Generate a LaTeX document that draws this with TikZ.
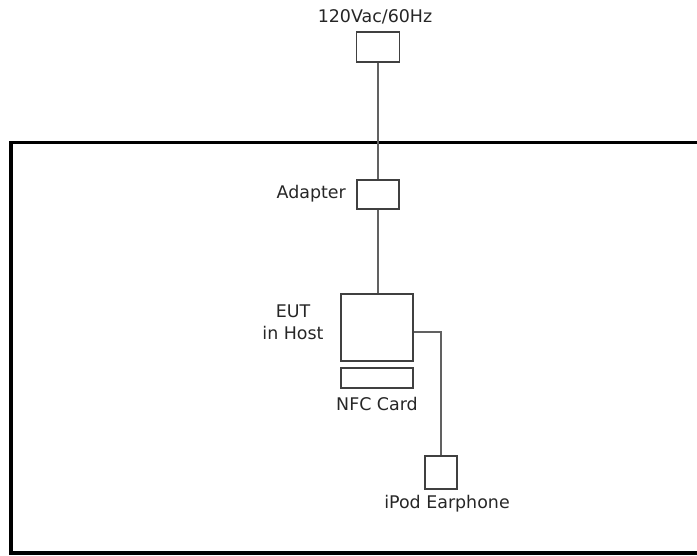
\documentclass[tikz,border=0pt]{standalone}
\usepackage{fontspec}
\setmainfont{DejaVu Sans}
\begin{document}
\begin{tikzpicture}[x=1bp,y=-1bp,
  box/.style={draw=black!75,line width=1.8bp,fill=white,inner sep=0pt},
  wire/.style={draw=black!62,line width=2bp},
  lbl/.style={font=\fontsize{17.5}{22}\selectfont,text=black!85,inner sep=0pt,align=center},
  frame/.style={draw=black,line width=3.5bp}]
\useasboundingbox (0,0) rectangle (697,556);
\clip (0,0) rectangle (697,556);
\draw[frame] (720,142.5) -- (11,142.5) -- (11,553) -- (720,553);
\node[box,minimum width=43bp,minimum height=30bp] (power) at (378,47) {};
\node[box,minimum width=42bp,minimum height=29bp] (adapter) at (378,194.5) {};
\node[box,minimum width=72bp,minimum height=67bp] (eut) at (377,327.5) {};
\node[box,minimum width=72bp,minimum height=20bp] (nfc) at (377,378) {};
\node[box,minimum width=32bp,minimum height=33bp] (ipod) at (441,472.5) {};
\node[lbl] (tpower) at (375,17) {120Vac/60Hz};
\node[lbl,anchor=east] (tadapter) at (346,194) {Adapter};
\node[lbl] (teut) at (293,322) {EUT\\in Host};
\node[lbl] (tnfc) at (377,404) {NFC Card};
\node[lbl] (tipod) at (447,504) {iPod Earphone};
\draw[wire] (power.south) -- (adapter.north);
\draw[wire] (adapter.south) -- ([xshift=1bp]eut.north);
\draw[wire] ([yshift=-4.5bp]eut.east) -| (ipod.north);
\end{tikzpicture}
\end{document}
